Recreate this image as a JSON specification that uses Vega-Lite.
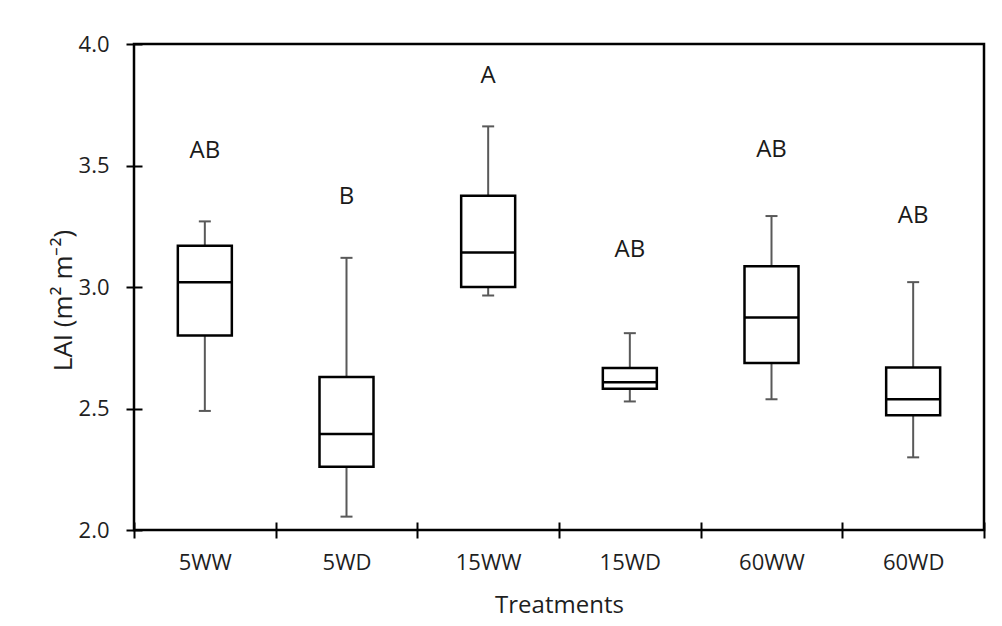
{
  "$schema": "https://vega.github.io/schema/vega-lite/v6.json",
  "autosize": "none",
  "width": 850,
  "height": 486,
  "padding": {"left": 134, "top": 44, "right": 18, "bottom": 96},
  "background": "white",
  "config": {
    "view": {"stroke": "black", "strokeWidth": 2.5},
    "font": "Open Sans"
  },
  "data": {
    "values": [
      {"treatment": "5WW", "lower": 2.49, "q1": 2.80, "median": 3.02, "q3": 3.17, "upper": 3.27, "letter": "AB", "letterY": 3.56},
      {"treatment": "5WD", "lower": 2.055, "q1": 2.26, "median": 2.395, "q3": 2.63, "upper": 3.12, "letter": "B", "letterY": 3.37},
      {"treatment": "15WW", "lower": 2.965, "q1": 3.00, "median": 3.142, "q3": 3.376, "upper": 3.661, "letter": "A", "letterY": 3.87},
      {"treatment": "15WD", "lower": 2.529, "q1": 2.581, "median": 2.608, "q3": 2.667, "upper": 2.81, "letter": "AB", "letterY": 3.153},
      {"treatment": "60WW", "lower": 2.538, "q1": 2.687, "median": 2.875, "q3": 3.085, "upper": 3.292, "letter": "AB", "letterY": 3.565},
      {"treatment": "60WD", "lower": 2.299, "q1": 2.472, "median": 2.538, "q3": 2.669, "upper": 3.02, "letter": "AB", "letterY": 3.291}
    ]
  },
  "encoding": {
    "x": {
      "field": "treatment",
      "type": "nominal",
      "sort": null,
      "scale": {"paddingInner": 0, "paddingOuter": 0},
      "axis": {
        "title": "Treatments",
        "domain": false,
        "offset": -8,
        "tickSize": 16,
        "tickWidth": 2,
        "tickColor": "black",
        "tickBand": "extent",
        "labelAngle": 0,
        "labelFont": "Open Sans",
        "labelFontSize": 22,
        "labelColor": "#1f1f1f",
        "labelPadding": 14,
        "titleFont": "Open Sans",
        "titleFontSize": 24,
        "titleFontWeight": "normal",
        "titleColor": "#1f1f1f",
        "titlePadding": 20
      }
    }
  },
  "layer": [
    {
      "mark": {"type": "rule", "color": "#595959", "strokeWidth": 2, "opacity": 1},
      "encoding": {
        "y": {
          "field": "lower",
          "type": "quantitative",
          "scale": {"domain": [2, 4], "nice": false, "zero": false},
          "axis": {
            "title": "LAI (m² m⁻²)",
            "values": [2, 2.5, 3, 3.5, 4],
            "format": ".1f",
            "grid": false,
            "domain": false,
            "offset": -8,
            "tickSize": 16,
            "tickWidth": 2,
            "tickColor": "black",
            "labelFont": "Open Sans",
            "labelFontSize": 22,
            "labelColor": "#1f1f1f",
            "labelPadding": 17,
            "titleFont": "Open Sans",
            "titleFontSize": 26,
            "titleFontWeight": "normal",
            "titleColor": "#1f1f1f",
            "titlePadding": 2,
            "titleY": 256
          }
        },
        "y2": {"field": "upper"}
      }
    },
    {
      "mark": {"type": "tick", "color": "#595959", "size": 12, "thickness": 2, "orient": "horizontal", "opacity": 1},
      "encoding": {"y": {"field": "lower", "type": "quantitative"}}
    },
    {
      "mark": {"type": "tick", "color": "#595959", "size": 12, "thickness": 2, "orient": "horizontal", "opacity": 1},
      "encoding": {"y": {"field": "upper", "type": "quantitative"}}
    },
    {
      "mark": {"type": "bar", "width": 54, "fill": "white", "stroke": "black", "strokeWidth": 2.5, "opacity": 1},
      "encoding": {
        "y": {"field": "q1", "type": "quantitative"},
        "y2": {"field": "q3"}
      }
    },
    {
      "mark": {"type": "tick", "color": "black", "size": 54, "thickness": 2.5, "orient": "horizontal", "opacity": 1},
      "encoding": {"y": {"field": "median", "type": "quantitative"}}
    },
    {
      "mark": {"type": "text", "font": "Open Sans", "fontSize": 24, "color": "#1a1a1a", "baseline": "middle", "align": "center"},
      "encoding": {
        "y": {"field": "letterY", "type": "quantitative"},
        "text": {"field": "letter"}
      }
    }
  ]
}
